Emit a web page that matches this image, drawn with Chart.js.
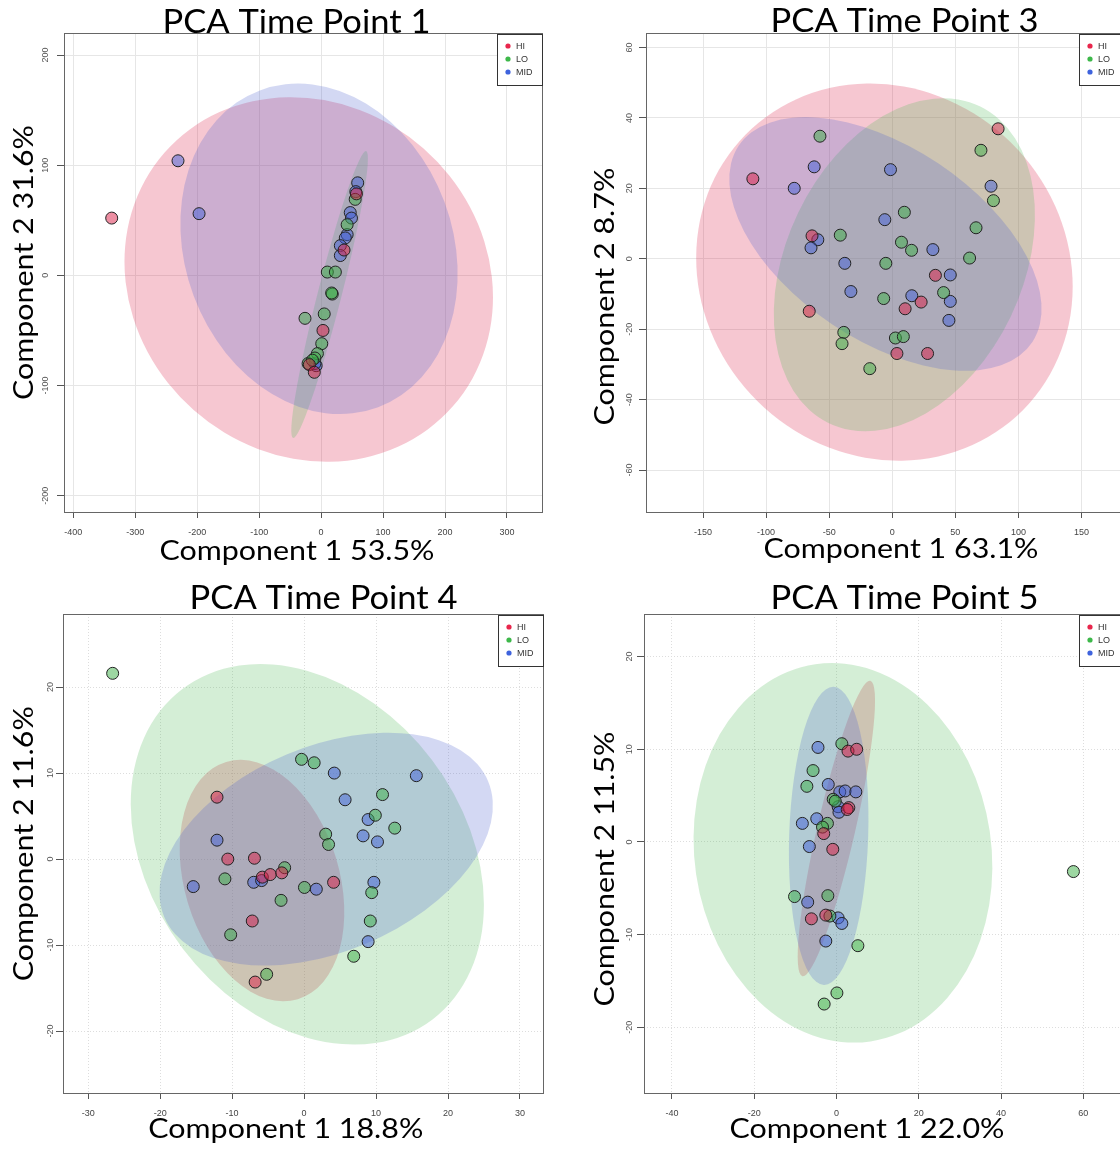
<!DOCTYPE html>
<html>
<head>
<meta charset="utf-8">
<script src="https://cdn.jsdelivr.net/npm/chart.js@4.4.1/dist/chart.umd.min.js"></script>
<style>
  html, body { margin: 0; padding: 0; background: #fff; }
  #wrap { position: relative; width: 1120px; height: 1152px; overflow: hidden; }
  canvas { position: absolute; }
</style>
</head>
<body>
<div id="wrap">
  <canvas id="tp1" width="560" height="576" style="left:0px;top:0px"></canvas>
  <canvas id="tp3" width="560" height="576" style="left:580px;top:0px"></canvas>
  <canvas id="tp4" width="560" height="576" style="left:0px;top:576px"></canvas>
  <canvas id="tp5" width="560" height="576" style="left:580px;top:576px"></canvas>
</div>
<script>
var groups = ['HI', 'LO', 'MID'];

// ---- time point 1 ----
var tp1Hi = [[-338, 52], [57, 74], [37, 23], [3, -50], [-19, -81], [-11, -88]];
var tp1Lo = [[55, 69], [42, 46], [10, 3], [23, 3], [18, -17], [17, -16], [-26, -39], [5, -35], [1, -62], [-6, -71], [-10, -75], [-21, -80], [-14, -77]];
var tp1Mid = [[-231, 104], [-197, 56], [59, 84], [56, 76], [47, 57], [49, 52], [42, 37], [39, 34], [31, 27], [31, 18], [-8, -82], [-10, -80]];
// ellipse: centre x, centre y, first half axis (dx, dy), second half axis (dx, dy)
var tp1Ellipses = [[-20, -3.7, -232.6, 115.2, 185.3, 118.8], [13.7, -17.4, 58.95, 130.2, 18.7, -2.7], [-3.4, 24.1, -95.4, 143.8, 202.4, 42.7]];
var tp1XTicks = [-400, -300, -200, -100, 0, 100, 200, 300];
var tp1YTicks = [-200, -100, 0, 100, 200];

// ---- time point 3 ----
var tp3Hi = [[83.9, 36.9], [-110.5, 22.7], [-63.6, 6.5], [-65.8, -14.9], [34.2, -4.7], [22.9, -12.3], [10.2, -14.2], [3.7, -26.9], [28, -26.9]];
var tp3Lo = [[-57.3, 34.8], [70.3, 30.8], [80.2, 16.5], [9.6, 13.2], [66.4, 8.8], [-41.2, 6.7], [7.3, 4.7], [15.3, 2.4], [61.3, 0.2], [-5.1, -1.3], [40.7, -9.6], [-6.8, -11.3], [-38.4, -20.9], [-39.8, -24.1], [2.5, -22.5], [8.8, -22.1], [-17.8, -31.2]];
var tp3Mid = [[-61.9, 26.1], [-77.7, 20], [-1.4, 25.3], [78.3, 20.6], [-5.9, 11.1], [-59, 5.4], [-64.4, 3.1], [-37.6, -1.3], [32.2, 2.6], [46, -4.6], [-32.8, -9.3], [15.5, -10.5], [46, -12.1], [44.9, -17.5]];
var tp3Ellipses = [[-6.2, -3.8, -114.9, 37.2, 95.2, 38.5], [9.6, -1.7, 60.2, 44.9, 84.2, -14.8], [-5.4, 4.2, -116.5, 27.8, 41.8, 22.9]];
var tp3XTicks = [-150, -100, -50, 0, 50, 100, 150];
var tp3YTicks = [-60, -40, -20, 0, 20, 40, 60];

// ---- time point 4 ----
var tp4Hi = [[-12.1, 7.2], [-10.6, 0], [-6.9, 0.1], [-5.8, -2.1], [-4.7, -1.8], [-3.1, -1.6], [4.1, -2.7], [-7.2, -7.2], [-6.8, -14.3]];
var tp4Lo = [[-26.6, 21.6], [-0.35, 11.6], [1.4, 11.2], [10.9, 7.5], [9.9, 5.1], [12.6, 3.6], [3.0, 2.9], [3.4, 1.7], [-2.7, -1.0], [-11.0, -2.3], [0.05, -3.3], [-3.2, -4.8], [9.4, -3.9], [9.2, -7.2], [-10.2, -8.8], [6.9, -11.3], [-5.2, -13.4]];
var tp4Mid = [[4.2, 10.0], [15.6, 9.7], [5.7, 6.9], [8.9, 4.6], [8.2, 2.7], [10.2, 2.0], [-12.1, 2.2], [-15.4, -3.2], [-7.0, -2.7], [-5.9, -2.5], [1.7, -3.5], [9.7, -2.7], [8.9, -9.6]];
var tp4Ellipses = [[-5.85, -2.5, -4.98, 13.8, 10.3, 2.6], [0.45, 0.56, -17.4, 19.2, 17.3, 11.0], [3.07, 1.16, 22.5, 7.89, 5.5, -11.0]];
var tp4XTicks = [-30, -20, -10, 0, 10, 20, 30];
var tp4YTicks = [-20, -10, 0, 10, 20];

// ---- time point 5 ----
var tp5Hi = [[2.8, 9.8], [4.9, 10.0], [3.0, 3.7], [2.6, 3.5], [-3.1, 0.9], [-0.9, -0.8], [-6.1, -8.3], [-2.6, -7.9]];
var tp5Lo = [[57.6, -3.2], [1.3, 10.6], [-5.7, 7.7], [-7.2, 6.0], [-0.8, 4.6], [-0.3, 4.4], [-2.2, 2.0], [-3.4, 1.6], [-10.2, -5.9], [-2.1, -5.8], [-1.6, -8.0], [5.2, -11.2], [0.1, -16.3], [-3.0, -17.5]];
var tp5Mid = [[-4.5, 10.2], [-2.0, 6.2], [0.8, 5.4], [2.1, 5.5], [4.7, 5.4], [0.4, 3.8], [0.6, 3.2], [-4.8, 2.5], [-8.3, 2.0], [-6.6, -0.5], [-7.0, -6.5], [0.4, -8.2], [1.3, -8.8], [-2.6, -10.7]];
var tp5Ellipses = [[-0.03, 1.45, 8.26, 15.94, 4.5, -0.46], [1.57, -1.18, -6.7, 20.35, 35.7, 2.3], [-1.9, 0.65, 1.18, 16.09, 9.6, -0.14]];
var tp5XTicks = [-40, -20, 0, 20, 40, 60];
var tp5YTicks = [-20, -10, 0, 10, 20];

var pointFill = ['rgba(220, 30, 70, 0.5)', 'rgba(60, 175, 70, 0.5)', 'rgba(65, 95, 215, 0.5)'];
var ellipseFill = ['rgba(220, 30, 70, 0.25)', 'rgba(83, 187, 91, 0.25)', 'rgba(79, 99, 207, 0.25)'];
var legendDot = ['#e8264c', '#3db84a', '#3e63dd'];

function fitText(ctx, text, x, y, size, width, vertical) {
    ctx.save();
    ctx.font = size + 'px Lato';
    var w = ctx.measureText(text).width;
    ctx.translate(x, y);
    if (vertical) ctx.rotate(-Math.PI / 2);
    ctx.scale(width / w, 1);
    ctx.textAlign = 'center';
    ctx.textBaseline = 'alphabetic';
    ctx.fillStyle = '#000';
    ctx.fillText(text, 0, 0);
    ctx.restore();
}

var pcaPlugin = {
    id: 'pca',
    beforeDatasetsDraw: function (chart, args, o) {
        var ctx = chart.ctx, a = chart.chartArea, xs = chart.scales.x, ys = chart.scales.y;
        ctx.save();
        ctx.beginPath();
        ctx.rect(a.left, a.top, a.right - a.left, a.bottom - a.top);
        ctx.clip();
        o.ellipses.forEach(function (e, i) {
            var cx = xs.getPixelForValue(e[0]), cy = ys.getPixelForValue(e[1]);
            var ax = xs.getPixelForValue(e[0] + e[2]) - cx, ay = ys.getPixelForValue(e[1] + e[3]) - cy;
            var bx = xs.getPixelForValue(e[0] + e[4]) - cx, by = ys.getPixelForValue(e[1] + e[5]) - cy;
            ctx.save();
            ctx.transform(ax, ay, bx, by, cx, cy);
            ctx.beginPath();
            ctx.arc(0, 0, 1, 0, 2 * Math.PI);
            ctx.restore();
            ctx.fillStyle = ellipseFill[i];
            ctx.fill();
        });
        ctx.restore();
    },
    afterDraw: function (chart, args, o) {
        var ctx = chart.ctx, a = chart.chartArea, ys = chart.scales.y;
        ctx.save();
        // box round the plot
        ctx.strokeStyle = '#666';
        ctx.lineWidth = 1;
        ctx.strokeRect(a.left + 0.5, a.top + 0.5, a.right - a.left, a.bottom - a.top);

        // y tick labels, turned like R draws them
        ctx.font = '9px "Liberation Sans"';
        ctx.fillStyle = '#555';
        ctx.textAlign = 'center';
        ctx.textBaseline = 'middle';
        ys.ticks.forEach(function (t) {
            var py = ys.getPixelForValue(t.value);
            ctx.save();
            ctx.translate(o.yTickX, py);
            ctx.rotate(-Math.PI / 2);
            ctx.fillText(String(t.value), 0, 0);
            ctx.restore();
        });

        // legend box, top right
        var bw = 45, bh = 51, bl = a.right - bw, bt = a.top + 1;
        ctx.fillStyle = '#fff';
        ctx.fillRect(bl, bt, bw, bh);
        ctx.strokeStyle = '#333';
        ctx.strokeRect(bl + 0.5, bt + 0.5, bw, bh);
        ctx.textAlign = 'left';
        chart.data.datasets.forEach(function (ds, i) {
            var ry = bt + 12 + i * 13;
            ctx.fillStyle = legendDot[i];
            ctx.beginPath();
            ctx.arc(bl + 11, ry, 2.6, 0, 2 * Math.PI);
            ctx.fill();
            ctx.fillStyle = '#333';
            ctx.fillText(ds.label, bl + 19, ry + 0.5);
        });
        ctx.restore();

        fitText(ctx, o.title, o.titlePos[0], o.titlePos[1], 32, 268, false);
        fitText(ctx, o.xTitle, o.xTitlePos[0], o.xTitlePos[1], 26, 275, false);
        fitText(ctx, o.yTitle, o.yTitlePos[0], o.yTitlePos[1], 26, o.yTitleWidth, true);
    }
};

function makePanel(id, pts, ellipses, xr, yr, xTicks, yTicks, area, txt, dashed) {
    var gridColor = dashed ? '#dddddd' : '#e6e6e6';
    var dash = dashed ? [1, 2] : [];
    return new Chart(document.getElementById(id), {
        type: 'scatter',
        data: {
            datasets: groups.map(function (g, i) {
                return {
                    label: g,
                    data: pts[i].map(function (p) { return { x: p[0], y: p[1] }; }),
                    pointRadius: 6,
                    pointHoverRadius: 6,
                    pointBackgroundColor: pointFill[i],
                    pointBorderColor: '#222',
                    pointBorderWidth: 1
                };
            })
        },
        options: {
            responsive: false,
            animation: false,
            events: [],
            layout: { autoPadding: false, padding: { left: 0, top: area[1], right: 560 - area[2], bottom: 576 - area[3] - 30 } },
            scales: {
                x: {
                    type: 'linear', min: xr[0], max: xr[1],
                    afterBuildTicks: function (s) { s.ticks = xTicks.map(function (v) { return { value: v }; }); },
                    afterFit: function (s) { s.height = 30; },
                    ticks: { autoSkip: false, maxRotation: 0, padding: 9, color: '#444', font: { family: 'Liberation Sans', size: 9 } },
                    grid: { color: gridColor, tickBorderDash: [], tickColor: '#555', tickLength: 6 },
                    border: { display: false, dash: dash }
                },
                y: {
                    type: 'linear', min: yr[0], max: yr[1],
                    afterBuildTicks: function (s) { s.ticks = yTicks.map(function (v) { return { value: v }; }); },
                    afterFit: function (s) { s.width = area[0]; },
                    ticks: { display: false },
                    grid: { color: gridColor, tickBorderDash: [], tickColor: '#555', tickLength: 7 },
                    border: { display: false, dash: dash }
                }
            },
            plugins: {
                legend: { display: false },
                tooltip: { enabled: false },
                pca: {
                    ellipses: ellipses,
                    yTickX: txt.yTickX,
                    title: txt.title, titlePos: txt.titlePos,
                    xTitle: txt.xTitle, xTitlePos: txt.xTitlePos,
                    yTitle: txt.yTitle, yTitlePos: txt.yTitlePos, yTitleWidth: txt.yTitleWidth
                }
            }
        },
        plugins: [pcaPlugin]
    });
}

makePanel('tp1', [tp1Hi, tp1Lo, tp1Mid], tp1Ellipses, [-415, 356.5], [-214.8, 220], tp1XTicks, tp1YTicks, [64, 33, 542, 512], {
    title: 'PCA Time Point 1', titlePos: [296.5, 32.5],
    xTitle: 'Component 1 53.5%', xTitlePos: [297, 560],
    yTitle: 'Component 2 31.6%', yTitlePos: [33, 262.5], yTitleWidth: 275,
    yTickX: 46
}, false);

makePanel('tp3', [tp3Hi, tp3Lo, tp3Mid], tp3Ellipses, [-195.2, 183.7], [-71.9, 64.1], tp3XTicks, tp3YTicks, [66, 33, 544, 512], {
    title: 'PCA Time Point 3', titlePos: [324.6, 31.5],
    xTitle: 'Component 1 63.1%', xTitlePos: [321, 558],
    yTitle: 'Component 2 8.7%', yTitlePos: [34, 296.6], yTitleWidth: 258,
    yTickX: 50
}, false);

makePanel('tp4', [tp4Hi, tp4Lo, tp4Mid], tp4Ellipses, [-33.5, 33.2], [-27.2, 28.5], tp4XTicks, tp4YTicks, [63, 38, 543, 517], {
    title: 'PCA Time Point 4', titlePos: [323.6, 33],
    xTitle: 'Component 1 18.8%', xTitlePos: [285.8, 562],
    yTitle: 'Component 2 11.6%', yTitlePos: [33, 267.7], yTitleWidth: 275,
    yTickX: 51
}, true);

makePanel('tp5', [tp5Hi, tp5Lo, tp5Mid], tp5Ellipses, [-46.8, 69.9], [-27.1, 24.6], tp5XTicks, tp5YTicks, [64, 38, 544, 517], {
    title: 'PCA Time Point 5', titlePos: [324.6, 33],
    xTitle: 'Component 1 22.0%', xTitlePos: [287, 562],
    yTitle: 'Component 2 11.5%', yTitlePos: [34, 293], yTitleWidth: 275,
    yTickX: 50
}, true);
</script>
</body>
</html>
